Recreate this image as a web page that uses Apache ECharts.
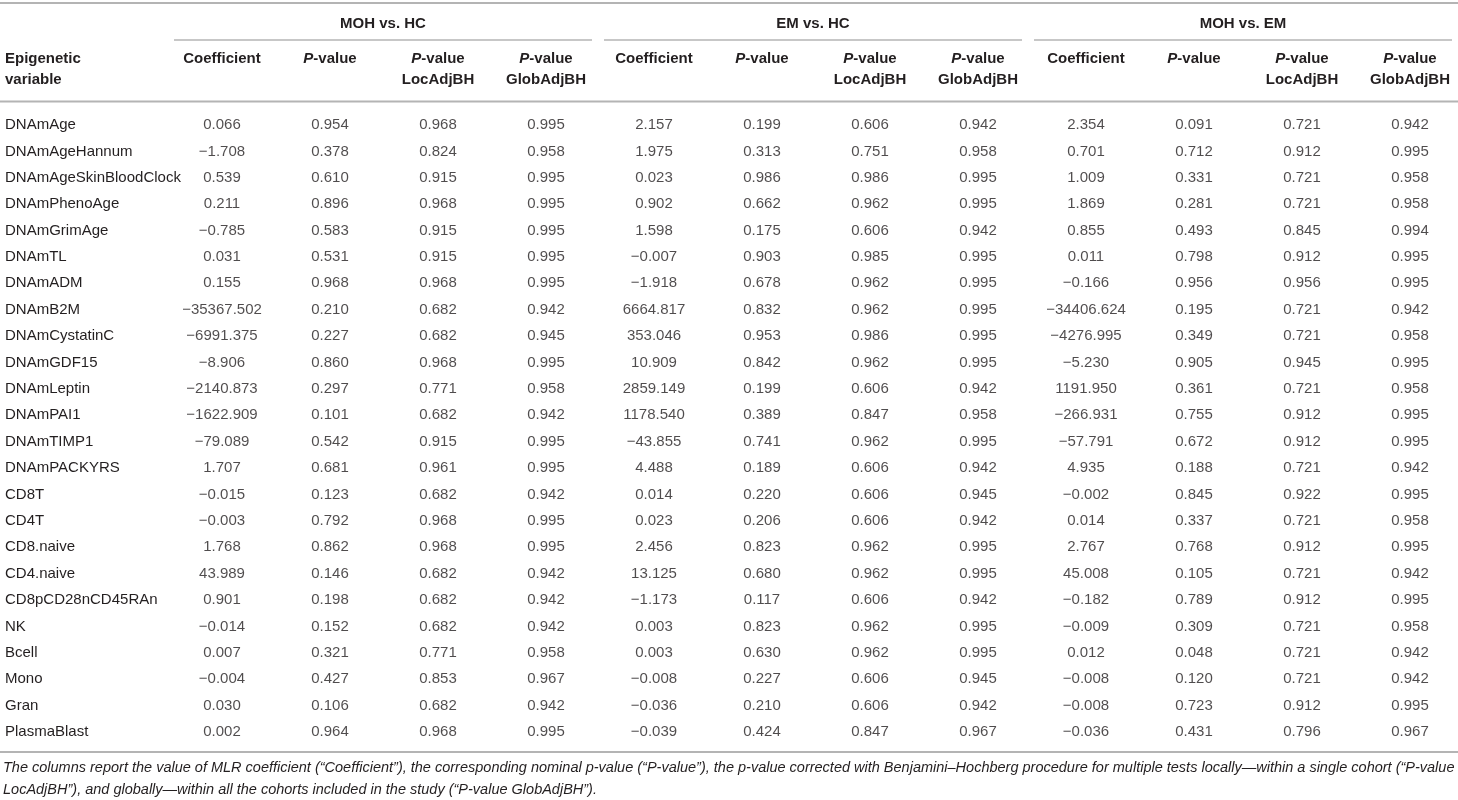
<!DOCTYPE html>
<html>
<head>
<meta charset="utf-8">
<script src="https://cdn.jsdelivr.net/npm/echarts@6/dist/echarts.min.js"></script>
<style>
  html, body { margin: 0; padding: 0; background: #fff; }
  #main { width: 1458px; height: 800px; }
</style>
</head>
<body>
<div id="main"></div>
<script>
// table content
const rowNames = ['DNAmAge', 'DNAmAgeHannum', 'DNAmAgeSkinBloodClock', 'DNAmPhenoAge', 'DNAmGrimAge',
  'DNAmTL', 'DNAmADM', 'DNAmB2M', 'DNAmCystatinC', 'DNAmGDF15', 'DNAmLeptin', 'DNAmPAI1',
  'DNAmTIMP1', 'DNAmPACKYRS', 'CD8T', 'CD4T', 'CD8.naive', 'CD4.naive', 'CD8pCD28nCD45RAn',
  'NK', 'Bcell', 'Mono', 'Gran', 'PlasmaBlast'];
const groups = ['MOH vs. HC', 'EM vs. HC', 'MOH vs. EM'];
const subHeaders = ['Coefficient', 'P-value', 'P-value LocAdjBH', 'P-value GlobAdjBH'];

// MOH vs. HC
const mohHcCoef = [0.066, -1.708, 0.539, 0.211, -0.785, 0.031, 0.155, -35367.502, -6991.375, -8.906,
  -2140.873, -1622.909, -79.089, 1.707, -0.015, -0.003, 1.768, 43.989, 0.901, -0.014, 0.007, -0.004, 0.030, 0.002];
const mohHcP = [0.954, 0.378, 0.610, 0.896, 0.583, 0.531, 0.968, 0.210, 0.227, 0.860, 0.297, 0.101,
  0.542, 0.681, 0.123, 0.792, 0.862, 0.146, 0.198, 0.152, 0.321, 0.427, 0.106, 0.964];
const mohHcLoc = [0.968, 0.824, 0.915, 0.968, 0.915, 0.915, 0.968, 0.682, 0.682, 0.968, 0.771, 0.682,
  0.915, 0.961, 0.682, 0.968, 0.968, 0.682, 0.682, 0.682, 0.771, 0.853, 0.682, 0.968];
const mohHcGlob = [0.995, 0.958, 0.995, 0.995, 0.995, 0.995, 0.995, 0.942, 0.945, 0.995, 0.958, 0.942,
  0.995, 0.995, 0.942, 0.995, 0.995, 0.942, 0.942, 0.942, 0.958, 0.967, 0.942, 0.995];

// EM vs. HC
const emHcCoef = [2.157, 1.975, 0.023, 0.902, 1.598, -0.007, -1.918, 6664.817, 353.046, 10.909,
  2859.149, 1178.540, -43.855, 4.488, 0.014, 0.023, 2.456, 13.125, -1.173, 0.003, 0.003, -0.008, -0.036, -0.039];
const emHcP = [0.199, 0.313, 0.986, 0.662, 0.175, 0.903, 0.678, 0.832, 0.953, 0.842, 0.199, 0.389,
  0.741, 0.189, 0.220, 0.206, 0.823, 0.680, 0.117, 0.823, 0.630, 0.227, 0.210, 0.424];
const emHcLoc = [0.606, 0.751, 0.986, 0.962, 0.606, 0.985, 0.962, 0.962, 0.986, 0.962, 0.606, 0.847,
  0.962, 0.606, 0.606, 0.606, 0.962, 0.962, 0.606, 0.962, 0.962, 0.606, 0.606, 0.847];
const emHcGlob = [0.942, 0.958, 0.995, 0.995, 0.942, 0.995, 0.995, 0.995, 0.995, 0.995, 0.942, 0.958,
  0.995, 0.942, 0.945, 0.942, 0.995, 0.995, 0.942, 0.995, 0.995, 0.945, 0.942, 0.967];

// MOH vs. EM
const mohEmCoef = [2.354, 0.701, 1.009, 1.869, 0.855, 0.011, -0.166, -34406.624, -4276.995, -5.230,
  1191.950, -266.931, -57.791, 4.935, -0.002, 0.014, 2.767, 45.008, -0.182, -0.009, 0.012, -0.008, -0.008, -0.036];
const mohEmP = [0.091, 0.712, 0.331, 0.281, 0.493, 0.798, 0.956, 0.195, 0.349, 0.905, 0.361, 0.755,
  0.672, 0.188, 0.845, 0.337, 0.768, 0.105, 0.789, 0.309, 0.048, 0.120, 0.723, 0.431];
const mohEmLoc = [0.721, 0.912, 0.721, 0.721, 0.845, 0.912, 0.956, 0.721, 0.721, 0.945, 0.721, 0.912,
  0.912, 0.721, 0.922, 0.721, 0.912, 0.721, 0.912, 0.721, 0.721, 0.721, 0.912, 0.796];
const mohEmGlob = [0.942, 0.995, 0.958, 0.958, 0.994, 0.995, 0.995, 0.942, 0.958, 0.995, 0.958, 0.995,
  0.995, 0.942, 0.995, 0.958, 0.995, 0.942, 0.995, 0.958, 0.942, 0.942, 0.995, 0.967];

const footnote = [
  'The columns report the value of MLR coefficient (\u201cCoefficient\u201d), the corresponding nominal p-value (\u201cP-value\u201d), the p-value corrected with Benjamini\u2013Hochberg procedure for multiple tests locally\u2014within a single cohort (\u201cP-value',
  'LocAdjBH\u201d), and globally\u2014within all the cohorts included in the study (\u201cP-value GlobAdjBH\u201d).'
];

const columns = [mohHcCoef, mohHcP, mohHcLoc, mohHcGlob, emHcCoef, emHcP, emHcLoc, emHcGlob,
  mohEmCoef, mohEmP, mohEmLoc, mohEmGlob];

const FONT = '"Liberation Sans", Arial, Helvetica, sans-serif';
const TEXT = '#231f20';
const RULE = '#b4b4b4';

const fmt = v => v.toFixed(3).replace('-', '\u2212');

const headerCats = [];
groups.forEach(() => subHeaders.forEach(h => headerCats.push(h)));

const myChart = echarts.init(document.getElementById('main'));

const cellSeries = columns.map((col, c) => ({
  type: 'scatter',
  xAxisIndex: 0,
  yAxisIndex: 0,
  symbolSize: 0,
  silent: true,
  data: col.map((v, r) => [c, r, v]),
  label: {
    show: true,
    position: 'inside',
    formatter: p => fmt(p.value[2]),
    fontFamily: FONT,
    fontSize: 15,
    color: TEXT
  }
}));

const option = {
  animation: false,
  textStyle: { fontFamily: FONT },
  grid: [
    { left: 222, right: 48, top: 125, bottom: 68 },
    { left: 168, right: -6, top: 40, height: 20 }
  ],
  xAxis: [
    {
      type: 'category', gridIndex: 0, position: 'top',
      data: headerCats, boundaryGap: false,
      axisLine: { show: false }, axisTick: { show: false }, splitLine: { show: false },
      axisLabel: {
        interval: 0, margin: 77, verticalAlign: 'top', align: 'center',
        fontFamily: FONT, fontSize: 15, fontWeight: 'bold', color: TEXT, lineHeight: 21,
        formatter: v => {
          if (v.indexOf('P-value') !== 0) return v;
          const rest = v.slice(7).trim();
          return '{it|P}-value' + (rest ? '\n' + rest : '');
        },
        rich: {
          it: { fontStyle: 'italic', fontWeight: 'bold', fontSize: 15, fontFamily: FONT, color: TEXT, lineHeight: 21 }
        }
      }
    },
    {
      type: 'category', gridIndex: 1, position: 'top',
      data: groups, boundaryGap: true,
      axisLine: { show: false }, axisTick: { show: false }, splitLine: { show: false },
      axisLabel: {
        interval: 0, margin: 16, verticalAlign: 'middle',
        fontFamily: FONT, fontSize: 15, fontWeight: 'bold', color: TEXT
      }
    }
  ],
  yAxis: [
    {
      type: 'category', gridIndex: 0, inverse: true,
      data: rowNames, boundaryGap: false,
      axisLine: { show: false }, axisTick: { show: false }, splitLine: { show: false },
      axisLabel: {
        interval: 0, margin: 217, align: 'left',
        fontFamily: FONT, fontSize: 15, color: TEXT
      }
    },
    {
      type: 'value', gridIndex: 1, min: 0, max: 1, show: false
    }
  ],
  series: cellSeries.concat([
    {
      // underline under each comparison group
      type: 'custom',
      xAxisIndex: 1,
      yAxisIndex: 1,
      silent: true,
      data: groups.map((g, i) => [i, 1]),
      renderItem: (params, api) => {
        const pt = api.coord([api.value(0), 1]);
        const w = api.size([1, 0])[0];
        return {
          type: 'line',
          shape: { x1: pt[0] - w / 2 + 6, y1: pt[1], x2: pt[0] + w / 2 - 6, y2: pt[1] },
          style: { stroke: RULE, lineWidth: 1.5 }
        };
      }
    }
  ]),
  graphic: [
    { type: 'line', shape: { x1: 0, y1: 3, x2: 1458, y2: 3 }, style: { stroke: RULE, lineWidth: 2 } },
    { type: 'line', shape: { x1: 0, y1: 101.5, x2: 1458, y2: 101.5 }, style: { stroke: RULE, lineWidth: 2 } },
    { type: 'line', shape: { x1: 0, y1: 752, x2: 1458, y2: 752 }, style: { stroke: RULE, lineWidth: 2 } },
    {
      type: 'text', left: 5, top: 48,
      style: {
        text: 'Epigenetic\nvariable', fontFamily: FONT, fontSize: 15, fontWeight: 'bold',
        fill: TEXT, lineHeight: 21
      }
    },
    {
      type: 'text', left: 3, top: 757,
      style: {
        text: footnote.join('\n'), fontFamily: FONT, fontSize: 14.5, fontStyle: 'italic',
        fill: TEXT, lineHeight: 22
      }
    }
  ]
};

myChart.setOption(option);
</script>
</body>
</html>
